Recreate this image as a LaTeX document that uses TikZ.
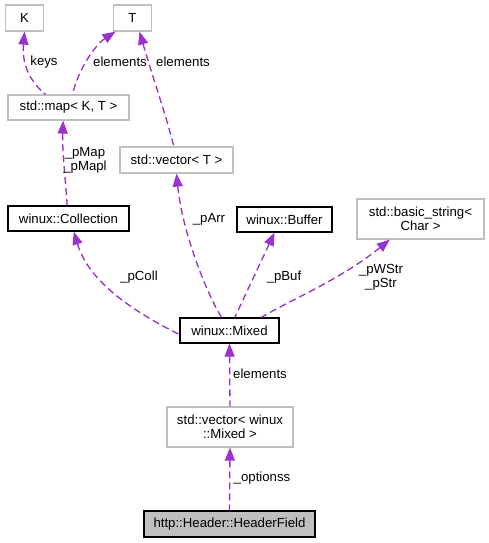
\documentclass[tikz,border=0pt]{standalone}
\usepackage{fontspec}
\setmainfont{Liberation Sans}
\usetikzlibrary{arrows.meta}
\definecolor{edgec}{HTML}{9A32CD}
\definecolor{tmplc}{HTML}{BFBFBF}
\begin{document}
\begin{tikzpicture}[x=0.75pt,y=-0.75pt,
  every node/.style={font=\fontsize{9.9}{10.5}\selectfont, inner sep=0pt, align=center},
  tmpl/.style={draw=tmplc, line width=0.9pt, fill=white},
  cls/.style={draw=black, line width=0.9pt, fill=white},
  cur/.style={draw=black, line width=0.9pt, fill=tmplc},
  edge/.style={draw=edgec, line width=1pt, dash pattern=on 5.25pt off 3pt,
    {Triangle[length=9.75pt,width=7.5pt,fill=edgec]}-},
  lbl/.style={font=\fontsize{9.9}{10.5}\selectfont}]
\useasboundingbox (0,0) rectangle (489,543);
\fill[white] (0,0) rectangle (489,543);

\node[tmpl, minimum width=29pt, minimum height=19.5pt] (K) at (24.5,18) {K};
\node[tmpl, minimum width=29pt, minimum height=19.5pt] (T) at (132.5,18) {T};
\node[tmpl, minimum width=90.75pt, minimum height=18.75pt] (map) at (68.5,107.5) {std::map\textless{} K, T \textgreater{}};
\node[tmpl, minimum width=84.75pt, minimum height=19.5pt] (vecT) at (176.5,160) {std::vector\textless{} T \textgreater{}};
\node[cls, minimum width=90.75pt, minimum height=18.75pt] (coll) at (68.5,218.5) {winux::Collection};
\node[cls, minimum width=71.25pt, minimum height=18.75pt] (buf) at (284.5,219.5) {winux::Buffer};
\node[tmpl, minimum width=95.25pt, minimum height=30pt] (bstr) at (420.5,219) {std::basic\_string\textless{}\\Char \textgreater{}};
\node[cls, minimum width=74.25pt, minimum height=18.75pt] (mixed) at (229.5,330.5) {winux::Mixed};
\node[tmpl, minimum width=94.5pt, minimum height=30pt] (vecM) at (230,427) {std::vector\textless{} winux\\::Mixed \textgreater{}};
\node[cur, minimum width=128.25pt, minimum height=19.5pt] (hf) at (229.5,524) {http::Header::HeaderField};

% edges
\draw[edge] (K.south) .. controls (22,62) and (28,80) .. ([xshift=-17.25pt]map.north);
\node[lbl] (lkeys) at (44,62) {keys};

\draw[edge] ([xshift=-12.75pt]T.south) .. controls (95,45) and (78,70) .. ([xshift=3pt]map.north);
\node[lbl] (lel1) at (120,62) {elements};

\draw[edge] ([xshift=5.25pt]T.south) .. controls (152,75) and (166,115) .. ([xshift=-2pt]vecT.north);
\node[lbl] (lel2) at (183,62) {elements};

\draw[edge] ([xshift=-4pt]map.south) .. controls (62,150) and (66,185) .. ([xshift=-1pt]coll.north);
\node[lbl] (lmap) at (85,160) {\_pMap\\\_pMapl};

\draw[edge] ([xshift=4pt]coll.south) .. controls (88,280) and (130,310) .. ([yshift=-3pt]mixed.west);
\node[lbl] (lcoll) at (139,277) {\_pColl};

\draw[edge] (vecT.south) .. controls (182,230) and (205,290) .. ([xshift=-6pt]mixed.north);
\node[lbl] (larr) at (209,219) {\_pArr};

\draw[edge] ([xshift=-7.5pt]buf.south) -- ([xshift=4pt]mixed.north);
\node[lbl] (lbuf) at (284,277) {\_pBuf};

\draw[edge] ([xshift=-23pt]bstr.south) .. controls (340,280) and (290,300) .. ([xshift=24pt]mixed.north);
\node[lbl] (lstr) at (381,277) {\_pWStr\\\_pStr};

\draw[edge] (mixed.south) -- (vecM.north);
\node[lbl] (lel3) at (260,374) {elements};

\draw[edge] (vecM.south) -- (hf.north);
\node[lbl] (lopt) at (262,478) {\_optionss};
\end{tikzpicture}
\end{document}
